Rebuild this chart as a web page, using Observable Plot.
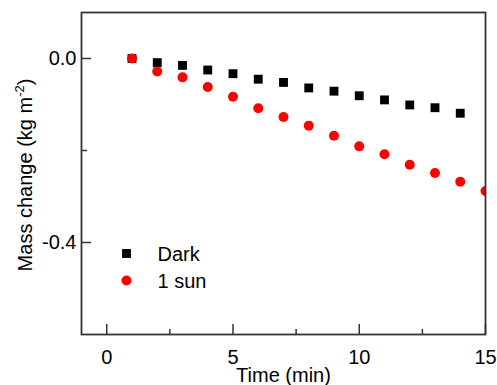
<!DOCTYPE html>
<html>
<head>
<meta charset="utf-8">
<script src="https://cdn.jsdelivr.net/npm/d3@7"></script>
<script src="https://cdn.jsdelivr.net/npm/@observablehq/plot@0.6"></script>
<style>
  html, body { margin: 0; padding: 0; background: #fff; }
  #chart svg { display: block; }
</style>
</head>
<body>
<div id="chart"></div>
<script>
// Time (min)
const timeDark = [1, 2, 3, 4, 5, 6, 7, 8, 9, 10, 11, 12, 13, 14];
const massDark = [0, -0.009, -0.015, -0.025, -0.033, -0.045, -0.052, -0.064, -0.071, -0.081, -0.090, -0.101, -0.107, -0.119];
const timeSun = [1, 2, 3, 4, 5, 6, 7, 8, 9, 10, 11, 12, 13, 14, 15];
const massSun = [0, -0.028, -0.041, -0.062, -0.083, -0.108, -0.127, -0.146, -0.168, -0.191, -0.208, -0.231, -0.249, -0.268, -0.288];
const seriesNames = ["Dark", "1 sun"];
const xMajorTicks = [0, 5, 10, 15];
const xMinorTicks = [2.5, 7.5, 12.5];
const yMajorTicks = [0, -0.4];
const yMinorTicks = [-0.2];
const xTitle = "Time (min)";

const dark = timeDark.map((t, i) => ({t, m: massDark[i]}));
const sun = timeSun.map((t, i) => ({t, m: massSun[i]}));

const axisColor = "#333";
const font = "Liberation Sans, Arial, sans-serif";

const chart = Plot.plot({
  width: 497,
  height: 385,
  marginLeft: 81,
  marginRight: 12,
  marginTop: 12,
  marginBottom: 51,
  style: {fontFamily: font, fontSize: "20px", color: "#000", background: "#fff"},
  x: {domain: [-1, 15]},
  y: {domain: [-0.6, 0.1]},
  marks: [
    // tick marks (inward)
    Plot.axisX({ticks: xMajorTicks, tickSize: -10, tickFormat: () => "", label: null, stroke: axisColor, strokeWidth: 1.5}),
    Plot.axisX({ticks: xMinorTicks, tickSize: -5, tickFormat: () => "", label: null, stroke: axisColor, strokeWidth: 1.5}),
    Plot.axisY({ticks: yMajorTicks, tickSize: -10, tickFormat: () => "", label: null, stroke: axisColor, strokeWidth: 1.5}),
    Plot.axisY({ticks: yMinorTicks, tickSize: -6, tickFormat: () => "", label: null, stroke: axisColor, strokeWidth: 1.5}),
    // tick labels
    Plot.axisX({ticks: xMajorTicks, tickSize: 0, tickPadding: 15, label: null, fontSize: 20, fill: "#000"}),
    Plot.axisY({ticks: yMajorTicks, tickSize: 0, tickPadding: 5, label: null, fontSize: 20, fill: "#000", tickFormat: d => d.toFixed(1)}),
    // data
    Plot.dot(dark, {x: "t", y: "m", symbol: "square", r: 5, fill: "#000", clip: true}),
    Plot.dot(sun, {x: "t", y: "m", symbol: "circle", r: 5, fill: "#ff0000", clip: true}),
    // legend
    Plot.dot([seriesNames[0]], {frameAnchor: "bottom-left", dx: 45, dy: -81, symbol: "square", r: 5, fill: "#000"}),
    Plot.dot([seriesNames[1]], {frameAnchor: "bottom-left", dx: 45, dy: -54, symbol: "circle", r: 5, fill: "#ff0000"}),
    Plot.text([seriesNames[0]], {text: d => d, frameAnchor: "bottom-left", lineAnchor: "middle", dx: 76, dy: -80, textAnchor: "start", fontSize: 20, fill: "#000"}),
    Plot.text([seriesNames[1]], {text: d => d, frameAnchor: "bottom-left", lineAnchor: "middle", dx: 76, dy: -53, textAnchor: "start", fontSize: 20, fill: "#000"}),
    // x title
    Plot.text([xTitle], {text: d => d, frameAnchor: "bottom", lineAnchor: "middle", dy: 41, fontSize: 20, fill: "#000"}),
    Plot.frame({stroke: axisColor, strokeWidth: 1.8})
  ]
});

document.getElementById("chart").appendChild(chart);

// y axis title with superscript
const svg = d3.select(chart);
const yt = svg.append("text")
  .attr("transform", `translate(32, 175) rotate(-90)`)
  .attr("text-anchor", "middle")
  .attr("font-family", font)
  .attr("font-size", 20)
  .attr("fill", "#000");
yt.append("tspan").text("Mass change (kg m");
yt.append("tspan").attr("font-size", 13).attr("dy", -8).text("-2");
yt.append("tspan").attr("dy", 8).text(")");
</script>
</body>
</html>
